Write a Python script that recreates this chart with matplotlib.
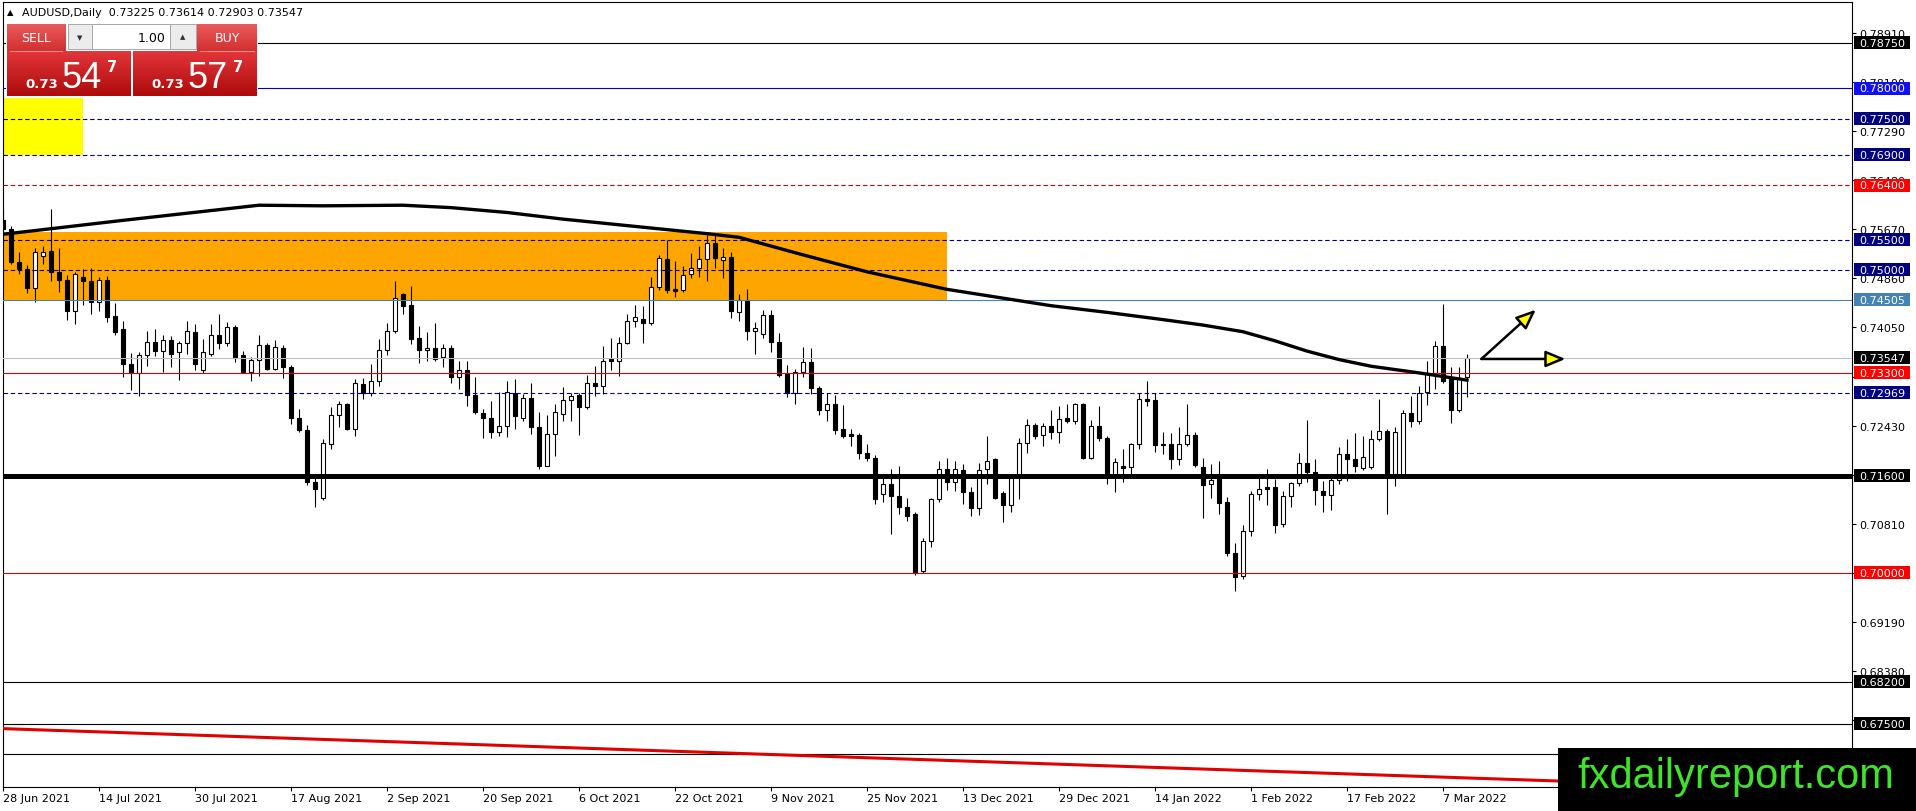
import matplotlib.pyplot as plt
import numpy as np
from matplotlib.patches import Rectangle, FancyArrowPatch
from matplotlib.colors import LinearSegmentedColormap

plt.rcParams['font.family'] = ['DejaVu Sans']

W, H = 1916, 812

# AUDUSD daily bars, first bar = 28 Jun 2021 (one row = 12 bars)
opens = [
    0.7582, 0.7568, 0.7513, 0.7502, 0.7471, 0.7523, 0.7532, 0.7496, 0.7484, 0.7433, 0.7488, 0.7482,
    0.7447, 0.7484, 0.7424, 0.7402, 0.7345, 0.7329, 0.7359, 0.7381, 0.7366, 0.7384, 0.7364, 0.7379,
    0.7397, 0.7334, 0.7361, 0.7392, 0.7380, 0.7406, 0.7359, 0.7332, 0.7352, 0.7376, 0.7336, 0.7371,
    0.7339, 0.7255, 0.7235, 0.7150, 0.7123, 0.7213, 0.7260, 0.7279, 0.7238, 0.7312, 0.7297, 0.7316,
    0.7368, 0.7400, 0.7460, 0.7442, 0.7387, 0.7368, 0.7371, 0.7356, 0.7371, 0.7323, 0.7335, 0.7293,
    0.7264, 0.7255, 0.7233, 0.7243, 0.7297, 0.7256, 0.7288, 0.7240, 0.7177, 0.7229, 0.7262, 0.7285,
    0.7293, 0.7273, 0.7314, 0.7309, 0.7353, 0.7350, 0.7380, 0.7416, 0.7419, 0.7413, 0.7472, 0.7518,
    0.7468, 0.7467, 0.7493, 0.7503, 0.7518, 0.7544, 0.7516, 0.7522, 0.7431, 0.7449, 0.7400, 0.7394,
    0.7425, 0.7381, 0.7328, 0.7297, 0.7331, 0.7348, 0.7305, 0.7268, 0.7279, 0.7237, 0.7229, 0.7227,
    0.7198, 0.7190, 0.7130, 0.7146, 0.7127, 0.7108, 0.7097, 0.7002, 0.7053, 0.7122, 0.7172, 0.7149,
    0.7169, 0.7133, 0.7106, 0.7171, 0.7187, 0.7132, 0.7112, 0.7157, 0.7215, 0.7244, 0.7227, 0.7242,
    0.7233, 0.7255, 0.7251, 0.7278, 0.7189, 0.7242, 0.7223, 0.7160, 0.7176, 0.7174, 0.7212, 0.7287,
    0.7285, 0.7212, 0.7212, 0.7187, 0.7212, 0.7227, 0.7174, 0.7146, 0.7155, 0.7116, 0.7033, 0.6994,
    0.7069, 0.7130, 0.7141, 0.7141, 0.7080, 0.7127, 0.7148, 0.7181, 0.7167, 0.7135, 0.7128, 0.7153,
    0.7196, 0.7188, 0.7173, 0.7174, 0.7220, 0.7234, 0.7163, 0.7163, 0.7263, 0.7251, 0.7298, 0.7330,
    0.7375, 0.7321, 0.7268, 0.73225,
]
highs = [
    0.7601, 0.7572, 0.7529, 0.7508, 0.7536, 0.7539, 0.7601, 0.7536, 0.7492, 0.7497, 0.7501, 0.7504,
    0.7488, 0.7490, 0.7445, 0.7415, 0.7363, 0.7365, 0.7400, 0.7402, 0.7393, 0.7391, 0.7383, 0.7416,
    0.7411, 0.7386, 0.7411, 0.7427, 0.7414, 0.7409, 0.7366, 0.7357, 0.7393, 0.7379, 0.7384, 0.7376,
    0.7343, 0.7271, 0.7244, 0.7157, 0.7221, 0.7273, 0.7284, 0.7281, 0.7320, 0.7321, 0.7345, 0.7386,
    0.7412, 0.7481, 0.7462, 0.7473, 0.7407, 0.7397, 0.7412, 0.7378, 0.7376, 0.7350, 0.7350, 0.7324,
    0.7271, 0.7284, 0.7298, 0.7317, 0.7320, 0.7295, 0.7313, 0.7266, 0.7260, 0.7279, 0.7306, 0.7296,
    0.7297, 0.7326, 0.7341, 0.7375, 0.7387, 0.7389, 0.7428, 0.7442, 0.7440, 0.7488, 0.7525, 0.7550,
    0.7515, 0.7507, 0.7528, 0.7539, 0.7557, 0.7558, 0.7536, 0.7530, 0.7460, 0.7469, 0.7414, 0.7434,
    0.7434, 0.7396, 0.7343, 0.7337, 0.7372, 0.7371, 0.7308, 0.7297, 0.7293, 0.7277, 0.7238, 0.7231,
    0.7212, 0.7195, 0.7159, 0.7172, 0.7177, 0.7123, 0.7101, 0.7058, 0.7124, 0.7185, 0.7189, 0.7185,
    0.7179, 0.7141, 0.7181, 0.7226, 0.7189, 0.7135, 0.7163, 0.7222, 0.7254, 0.7247, 0.7247, 0.7268,
    0.7276, 0.7279, 0.7281, 0.7281, 0.7252, 0.7276, 0.7225, 0.7190, 0.7205, 0.7215, 0.7297, 0.7316,
    0.7297, 0.7233, 0.7231, 0.7240, 0.7279, 0.7233, 0.7190, 0.7179, 0.7185, 0.7125, 0.7049, 0.7079,
    0.7135, 0.7157, 0.7171, 0.7155, 0.7135, 0.7150, 0.7198, 0.7252, 0.7187, 0.7152, 0.7157, 0.7207,
    0.7221, 0.7231, 0.7225, 0.7236, 0.7287, 0.7237, 0.7241, 0.7269, 0.7292, 0.7309, 0.7350, 0.7382,
    0.7444, 0.7339, 0.7339, 0.73614,
]
lows = [
    0.7566, 0.7510, 0.7494, 0.7462, 0.7447, 0.7510, 0.7482, 0.7464, 0.7418, 0.7410, 0.7442, 0.7427,
    0.7433, 0.7414, 0.7392, 0.7323, 0.7302, 0.7291, 0.7342, 0.7358, 0.7332, 0.7339, 0.7319, 0.7362,
    0.7334, 0.7330, 0.7358, 0.7370, 0.7375, 0.7348, 0.7330, 0.7317, 0.7325, 0.7334, 0.7334, 0.7321,
    0.7245, 0.7232, 0.7144, 0.7108, 0.7120, 0.7204, 0.7240, 0.7236, 0.7225, 0.7287, 0.7291, 0.7309,
    0.7360, 0.7396, 0.7428, 0.7378, 0.7347, 0.7349, 0.7349, 0.7339, 0.7313, 0.7303, 0.7276, 0.7262,
    0.7222, 0.7223, 0.7226, 0.7224, 0.7238, 0.7251, 0.7229, 0.7172, 0.7176, 0.7193, 0.7251, 0.7251,
    0.7227, 0.7270, 0.7291, 0.7295, 0.7334, 0.7325, 0.7378, 0.7405, 0.7379, 0.7409, 0.7467, 0.7462,
    0.7456, 0.7464, 0.7486, 0.7489, 0.7481, 0.7503, 0.7486, 0.7421, 0.7415, 0.7385, 0.7362, 0.7387,
    0.7364, 0.7324, 0.7290, 0.7279, 0.7324, 0.7295, 0.7260, 0.7251, 0.7229, 0.7222, 0.7209, 0.7187,
    0.7185, 0.7113, 0.7116, 0.7064, 0.7097, 0.7086, 0.6996, 0.7000, 0.7042, 0.7116, 0.7137, 0.7135,
    0.7114, 0.7093, 0.7095, 0.7146, 0.7122, 0.7084, 0.7101, 0.7122, 0.7198, 0.7220, 0.7209, 0.7221,
    0.7215, 0.7247, 0.7246, 0.7187, 0.7187, 0.7218, 0.7146, 0.7133, 0.7150, 0.7160, 0.7204, 0.7275,
    0.7200, 0.7196, 0.7171, 0.7178, 0.7209, 0.7174, 0.7091, 0.7123, 0.7097, 0.7027, 0.6970, 0.6989,
    0.7060, 0.7120, 0.7111, 0.7065, 0.7075, 0.7108, 0.7143, 0.7150, 0.7112, 0.7100, 0.7104, 0.7146,
    0.7152, 0.7167, 0.7170, 0.7172, 0.7218, 0.7097, 0.7143, 0.7160, 0.7240, 0.7246, 0.7277, 0.7303,
    0.7314, 0.7248, 0.7266, 0.72903,
]
closes = [
    0.7568, 0.7513, 0.7501, 0.7471, 0.7529, 0.7529, 0.7496, 0.7484, 0.7433, 0.7493, 0.7481, 0.7447,
    0.7484, 0.7423, 0.7398, 0.7345, 0.7329, 0.7359, 0.7381, 0.7366, 0.7384, 0.7362, 0.7379, 0.7399,
    0.7345, 0.7364, 0.7392, 0.7380, 0.7405, 0.7355, 0.7331, 0.7352, 0.7376, 0.7336, 0.7372, 0.7339,
    0.7255, 0.7235, 0.7149, 0.7139, 0.7214, 0.7260, 0.7279, 0.7238, 0.7314, 0.7297, 0.7316, 0.7368,
    0.7400, 0.7453, 0.7441, 0.7386, 0.7367, 0.7371, 0.7353, 0.7371, 0.7323, 0.7335, 0.7293, 0.7266,
    0.7255, 0.7233, 0.7243, 0.7298, 0.7258, 0.7288, 0.7240, 0.7177, 0.7229, 0.7265, 0.7285, 0.7292,
    0.7273, 0.7314, 0.7309, 0.7350, 0.7349, 0.7380, 0.7416, 0.7423, 0.7413, 0.7472, 0.7519, 0.7467,
    0.7466, 0.7492, 0.7503, 0.7518, 0.7544, 0.7519, 0.7522, 0.7433, 0.7451, 0.7400, 0.7404, 0.7425,
    0.7381, 0.7327, 0.7297, 0.7332, 0.7348, 0.7305, 0.7268, 0.7279, 0.7235, 0.7225, 0.7226, 0.7197,
    0.7189, 0.7122, 0.7146, 0.7127, 0.7108, 0.7094, 0.7000, 0.7053, 0.7122, 0.7172, 0.7149, 0.7172,
    0.7133, 0.7106, 0.7170, 0.7185, 0.7124, 0.7112, 0.7157, 0.7215, 0.7244, 0.7225, 0.7242, 0.7233,
    0.7254, 0.7251, 0.7279, 0.7189, 0.7242, 0.7222, 0.7160, 0.7182, 0.7173, 0.7212, 0.7287, 0.7284,
    0.7211, 0.7211, 0.7187, 0.7212, 0.7227, 0.7178, 0.7145, 0.7153, 0.7115, 0.7033, 0.6992, 0.7069,
    0.7130, 0.7138, 0.7138, 0.7078, 0.7127, 0.7148, 0.7181, 0.7167, 0.7137, 0.7129, 0.7153, 0.7196,
    0.7187, 0.7177, 0.7191, 0.7220, 0.7234, 0.7163, 0.7233, 0.7263, 0.7251, 0.7297, 0.7330, 0.7375,
    0.7317, 0.7268, 0.7321, 0.73547,
]

date_labels = ["28 Jun 2021", "14 Jul 2021", "30 Jul 2021", "17 Aug 2021", "2 Sep 2021",
               "20 Sep 2021", "6 Oct 2021", "22 Oct 2021", "9 Nov 2021", "25 Nov 2021",
               "13 Dec 2021", "29 Dec 2021", "14 Jan 2022", "1 Feb 2022", "17 Feb 2022", "7 Mar 2022"]
bars_per_label = 12

# moving average, read at some bars
ma_bars = [0, 15, 32, 40, 50, 56, 63, 70, 82, 88, 92, 100, 108, 118, 131, 138, 145, 150, 155,
           159, 163, 167, 171, 177, 183]
ma_values = [0.7559, 0.7582, 0.7607, 0.7606, 0.7607, 0.7603, 0.7595, 0.7584, 0.7568, 0.7560,
             0.7554, 0.7525, 0.7497, 0.7468, 0.7441, 0.7430, 0.7418, 0.7409, 0.7398, 0.7383,
             0.7366, 0.7352, 0.7341, 0.7330, 0.7318]

# horizontal levels
levels = [0.78750, 0.78000, 0.77500, 0.76900, 0.76400, 0.75500, 0.75000, 0.74505,
          0.73547, 0.73300, 0.72969, 0.71600, 0.70000, 0.68200, 0.67500, 0.67000]
axis_ticks = [0.78910, 0.78100, 0.77290, 0.76480, 0.75670, 0.74860, 0.74050, 0.73240,
              0.72430, 0.71620, 0.70810, 0.70000, 0.69190, 0.68380, 0.67570]
hidden_ticks = [0.73240]   # covered by the level labels on the chart

# zones (price bottom, price top, last bar)
orange_zone = (0.74505, 0.75625, 118.0)
yellow_zone = (0.76905, 0.77840, 9.95)

# trend line and arrows (bar, price)
trend_a = (-0.4, 0.67425)
trend_b = (194.4, 0.66558)
arrow_from = (184.8, 0.73530)
arrow_flat = (195.3, 0.73530)
arrow_up = (191.6, 0.74344)

NAVY = '#000080'
RED = '#ff0000'
level_style = {
    0.78750: ('black', '-', 0.8, 'black'),
    0.78000: ('#0000cc', '-', 0.8, '#1010f0'),
    0.77500: (NAVY, 'dash', 0.8, NAVY),
    0.76900: (NAVY, 'dash', 0.8, NAVY),
    0.76400: ('#d00000', 'dash', 0.8, RED),
    0.75500: (NAVY, 'dash', 0.8, NAVY),
    0.75000: (NAVY, 'dash', 0.8, NAVY),
    0.74505: ('#4682b4', '-', 0.8, '#4682b4'),
    0.73547: ('#bdbdbd', '-', 0.8, 'black'),
    0.73300: ('#e00000', '-', 0.8, RED),
    0.72969: (NAVY, 'dash', 0.8, NAVY),
    0.71600: ('black', '-', 3.6, 'black'),
    0.70000: ('#e00000', '-', 0.8, RED),
    0.68200: ('black', '-', 0.8, 'black'),
    0.67500: ('black', '-', 0.8, 'black'),
    0.67000: ('black', '-', 0.8, None),
}

fig = plt.figure(figsize=(W / 100, H / 100), dpi=100)
fig.patch.set_facecolor('white')
ax = fig.add_axes([3 / W, 24 / H, 1849 / W, 785 / H])
ax.set_facecolor('white')
ax.set_xlim(0, 231.125)
ax.set_ylim(0.66459, 0.79427)

# zones
ax.add_patch(Rectangle((-1, orange_zone[0]), orange_zone[2] + 1, orange_zone[1] - orange_zone[0],
                       facecolor='#ffa500', edgecolor='none', zorder=0.5))
ax.add_patch(Rectangle((-1, yellow_zone[0]), yellow_zone[2] + 1, yellow_zone[1] - yellow_zone[0],
                       facecolor='#ffff00', edgecolor='none', zorder=0.5))

# candles
x = np.arange(len(opens))
o = np.array(opens)
c = np.array(closes)
up = c >= o
ax.vlines(x, lows, highs, color='black', lw=0.8, zorder=3)
ax.bar(x[up], (c - o)[up], bottom=o[up], width=0.55, facecolor='white',
       edgecolor='black', linewidth=0.8, zorder=3.5)
ax.bar(x[~up], (o - c)[~up], bottom=c[~up], width=0.55, facecolor='black',
       edgecolor='black', linewidth=0.8, zorder=3.5)

# levels
label_tf = ax.get_yaxis_transform()
for p in levels:
    col, ls, lw, box = level_style[p]
    if ls == 'dash':
        ls = (0, (4, 2.5))
    ax.axhline(p, color=col, ls=ls, lw=lw, zorder=4)
    if box is not None:
        ax.add_patch(Rectangle((1.0011, p - 0.00107), 0.0303, 0.00215, transform=label_tf,
                               facecolor=box, edgecolor='none', clip_on=False, zorder=6))
        ax.text(1.0163, p, f'{p:.5f}', transform=label_tf, ha='center', va='center',
                color='white', fontsize=8, clip_on=False, zorder=7)

# trend line, moving average, arrows
ax.plot([trend_a[0], trend_b[0]], [trend_a[1], trend_b[1]], color='#e00000', lw=2.2, zorder=4)
ax.plot(ma_bars, ma_values, color='black', lw=2.4, zorder=5, solid_joinstyle='round')
for end in (arrow_flat, arrow_up):
    ax.add_patch(FancyArrowPatch(arrow_from, end, arrowstyle='-|>,head_length=1.2,head_width=0.5',
                                 mutation_scale=10, facecolor='yellow', edgecolor='black', lw=1.8,
                                 shrinkA=0, shrinkB=0, zorder=6))

# axes
ax.yaxis.tick_right()
ax.set_yticks(axis_ticks)
ax.set_yticklabels(['' if t in hidden_ticks else f'{t:.5f}' for t in axis_ticks])
ax.set_xticks(np.arange(len(date_labels)) * bars_per_label)
ax.set_xticklabels(date_labels, ha='left')
ax.tick_params(axis='y', direction='out', length=3, width=0.8, pad=2, labelsize=8)
ax.tick_params(axis='x', direction='out', length=3, width=0.8, pad=1.5, labelsize=8)
for s in ax.spines.values():
    s.set_color('black')
    s.set_linewidth(0.8)

# overlay in pixel coordinates: trade panel, header, watermark
ov = fig.add_axes([0, 0, 1, 1], zorder=10)
ov.axis('off')


def grad_box(x0, y0, x1, y1, top, bottom):
    cmap = LinearSegmentedColormap.from_list('g', [top, bottom])
    ov.imshow(np.linspace(0, 1, 40).reshape(-1, 1), cmap=cmap, extent=(x0, x1, y1, y0),
              aspect='auto', origin='upper', zorder=2, interpolation='bilinear')


ov.add_patch(Rectangle((6, 24), 252, 74, facecolor='white', edgecolor='none', zorder=1))
grad_box(7, 25, 65.5, 51.5, '#ea5a5a', '#d23030')
grad_box(197.5, 25, 257, 51.5, '#ea5a5a', '#d23030')
grad_box(7, 52.5, 131, 97, '#e2363a', '#ae0b0b')
grad_box(133, 52.5, 257, 97, '#e2363a', '#ae0b0b')
ov.add_patch(Rectangle((68, 25), 24, 25, facecolor='#ececec', edgecolor='#a8a8a8', lw=0.7, zorder=3))
ov.add_patch(Rectangle((92, 25), 78, 25, facecolor='white', edgecolor='#a8a8a8', lw=0.7, zorder=3))
ov.add_patch(Rectangle((170, 25), 26, 25, facecolor='#ececec', edgecolor='#a8a8a8', lw=0.7, zorder=3))
ov.plot([10, 62], [51.5, 51.5], color='#f3a0a0', lw=0.6, zorder=4)
ov.plot([200, 254], [51.5, 51.5], color='#f3a0a0', lw=0.6, zorder=4)
ov.text(36, 39, 'SELL', color='white', fontsize=9, ha='center', va='center', zorder=5)
ov.text(227, 39, 'BUY', color='white', fontsize=9, ha='center', va='center', zorder=5)
ov.text(80, 38, '\u25bc', color='#303030', fontsize=5, ha='center', va='center', zorder=5)
ov.text(183, 37, '\u25b2', color='#303030', fontsize=5, ha='center', va='center', zorder=5)
ov.text(166, 38, '1.00', color='black', fontsize=9, ha='right', va='center', zorder=5)
for x0, big in ((25, '54'), (151, '57')):
    ov.text(x0, 88, '0.73', color='white', fontsize=9.5, fontweight='bold', ha='left',
            va='baseline', zorder=5)
    ov.text(x0 + 36.5, 88.5, big, color='white', fontsize=26, family='Liberation Sans',
            ha='left', va='baseline', zorder=5)
    ov.text(x0 + 82, 71.5, '7', color='white', fontsize=10.5, fontweight='bold', ha='left',
            va='baseline', zorder=5)

ov.text(7, 13, '\u25b2', fontsize=6, ha='left', va='center', color='black')
ov.text(22, 13, 'AUDUSD,Daily  0.73225 0.73614 0.72903 0.73547', fontsize=8,
        ha='left', va='center', color='black')

ov.add_patch(Rectangle((1558, 749), 358, 63, facecolor='black', edgecolor='none', zorder=6))
ov.text(1736, 777, 'fxdailyreport.com', color='#3ee32a', fontsize=30, family='Liberation Sans',
        ha='center', va='center', zorder=7)

ov.set_xlim(0, W)
ov.set_ylim(H, 0)

fig.savefig('out.png', dpi=100)
